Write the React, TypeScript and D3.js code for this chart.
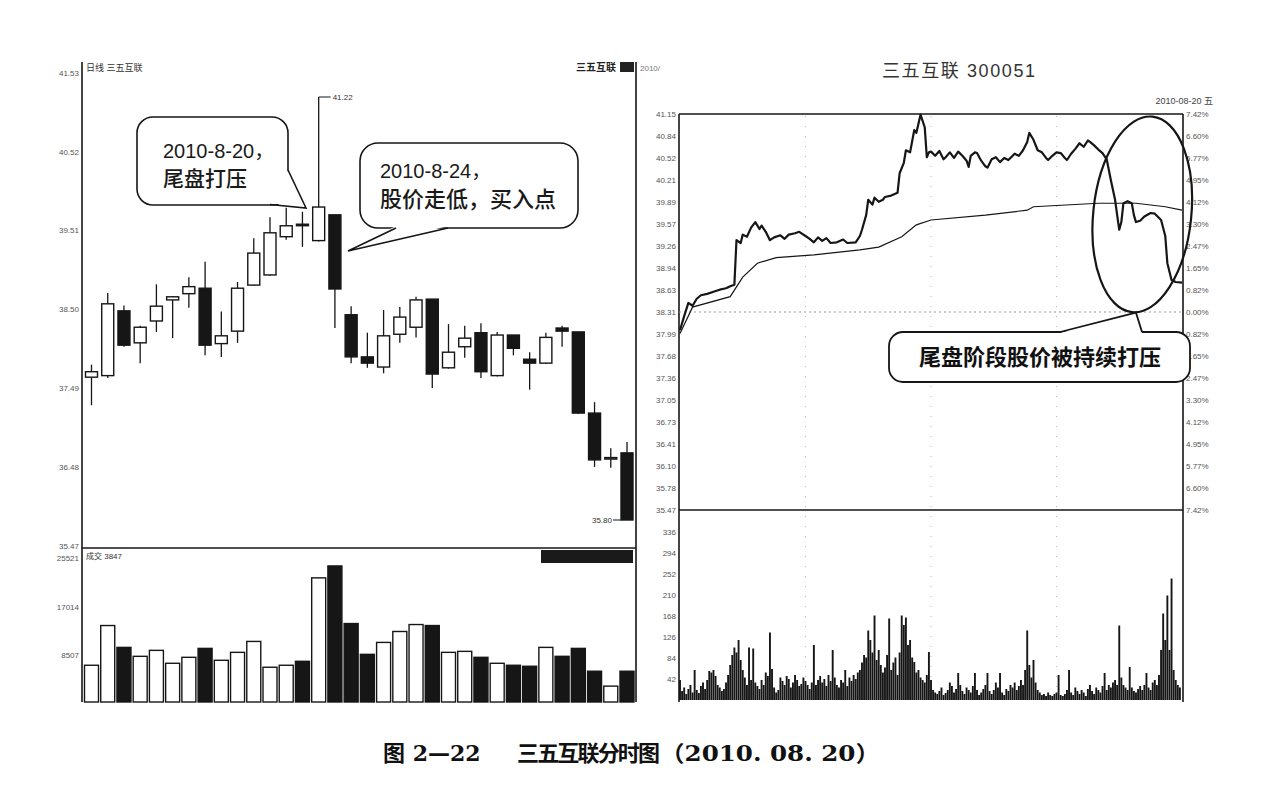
import { line, scaleLinear } from "d3";

// Daily candles (left panel).
const dailyOpen = [37.63, 37.65, 38.48, 38.07, 38.35, 38.62, 38.7, 38.77, 38.06, 38.22, 38.81, 38.94, 39.43, 39.59, 39.38, 39.71, 38.43, 37.89, 37.76, 38.18, 38.27, 38.63, 37.75, 38.02, 38.2, 37.65, 38.17, 37.86, 37.81, 38.26, 38.21, 37.17, 36.59, 36.66];
const dailyHigh = [37.79, 38.71, 38.55, 38.29, 38.82, 38.67, 38.91, 39.11, 38.47, 38.85, 39.41, 39.68, 39.8, 39.75, 41.22, 39.71, 38.54, 38.2, 38.49, 38.53, 38.66, 38.63, 38.31, 38.29, 38.32, 38.21, 38.17, 37.95, 38.2, 38.29, 38.21, 37.31, 36.72, 36.8];
const dailyLow = [37.27, 37.62, 38.02, 37.81, 38.21, 38.13, 38.52, 37.91, 37.89, 38.07, 38.8, 38.93, 39.39, 39.3, 39.37, 38.26, 37.81, 37.75, 37.68, 38.07, 38.14, 37.49, 37.74, 37.88, 37.62, 37.64, 37.91, 37.47, 37.8, 38.02, 37.16, 36.48, 36.47, 35.8];
const dailyClose = [37.7, 38.57, 38.04, 38.27, 38.54, 38.66, 38.79, 38.04, 38.16, 38.77, 39.22, 39.48, 39.57, 39.58, 39.81, 38.76, 37.89, 37.81, 38.16, 38.4, 38.62, 37.67, 37.95, 38.13, 37.7, 38.17, 38.0, 37.81, 38.14, 38.22, 37.17, 36.57, 36.6, 35.8];
const dailyVolume = [6771, 13715, 9896, 8333, 9375, 7118, 8160, 9722, 7639, 9028, 10937, 6424, 6771, 7465, 22049, 24132, 14062, 8681, 10764, 12674, 13889, 13715, 9028, 9201, 8160, 7118, 6771, 6597, 9896, 8333, 9722, 5729, 3125, 5729];

const leftPriceTicks = [41.53, 40.52, 39.51, 38.5, 37.49, 36.48, 35.47];
const leftVolumeTicks = [25521, 17014, 8507];

// Intraday 2010-08-20 (right panel)
const intradayMinute = [
  0, 2, 4, 6, 8, 10, 13, 16, 19, 22,
  24, 26, 27, 29, 30, 32, 34, 36, 38, 39,
  41, 43, 45, 48, 50, 52, 55, 57, 60, 62,
  64, 66, 68, 70, 72, 75, 78, 80, 84, 86,
  87, 89, 90, 92, 93, 95, 97, 98, 101, 104,
  105, 107, 108, 110, 112, 113, 115, 117, 118, 119,
  120, 122, 124, 126, 127, 129, 131, 133, 135, 137,
  138, 139, 141, 142, 144, 146, 147, 149, 151, 153,
  155, 157, 160, 162, 164, 166, 167, 169, 171, 173,
  175, 176, 178, 180, 182, 184, 185, 187, 189, 191,
  193, 195, 196, 198, 200, 202, 204, 206, 208, 209,
  210, 211, 212, 214, 216, 217, 218, 220, 222, 225,
  227, 230, 232, 233, 235, 237, 240,
];
const intradayPrice = [
  38.05, 38.25, 38.44, 38.4, 38.5, 38.55, 38.57, 38.6, 38.63, 38.65,
  38.68, 38.7, 39.34, 39.3, 39.42, 39.39, 39.52, 39.6, 39.5, 39.55,
  39.46, 39.34, 39.38, 39.41, 39.36, 39.42, 39.44, 39.46, 39.4, 39.36,
  39.31, 39.38, 39.33, 39.37, 39.3, 39.31, 39.35, 39.3, 39.31, 39.4,
  39.49, 39.7, 39.92, 39.85, 39.95, 39.89, 39.92, 39.96, 39.98, 40.02,
  40.3, 40.45, 40.63, 40.6, 40.92, 40.88, 41.14, 40.96, 40.53, 40.6,
  40.61, 40.55, 40.62, 40.5, 40.53, 40.6, 40.52, 40.61, 40.55, 40.48,
  40.39, 40.55, 40.6, 40.59, 40.48, 40.4, 40.38, 40.5, 40.53, 40.46,
  40.52, 40.49, 40.58, 40.55, 40.63, 40.75, 40.88, 40.78, 40.63, 40.6,
  40.52, 40.49, 40.55, 40.6, 40.59, 40.52, 40.49, 40.58, 40.65, 40.73,
  40.68, 40.77, 40.75, 40.7, 40.64, 40.59, 40.5, 40.2, 39.92, 39.7,
  39.49, 39.6, 39.87, 39.9, 39.87, 39.7, 39.6, 39.62, 39.68, 39.73,
  39.72, 39.63, 39.4, 39.01, 38.77, 38.74, 38.73,
];
const avgMinute = [0, 6, 24, 30, 37, 46, 64, 86, 95, 106, 113, 120, 146, 166, 169, 200, 218, 232, 240];
const avgPrice = [38.0, 38.38, 38.53, 38.81, 39.01, 39.09, 39.13, 39.2, 39.24, 39.39, 39.56, 39.63, 39.7, 39.77, 39.82, 39.87, 39.87, 39.82, 39.77];
const minuteVolume = [
  40, 18, 25, 12, 22, 30, 15, 60, 20, 14, 28, 35, 22, 40, 58, 55, 60, 48, 30, 25, 18, 22, 35, 50, 70, 90, 105, 95, 120, 80,
  60, 45, 30, 105, 40, 103, 35, 28, 22, 40, 30, 55, 48, 135, 62, 25, 15, 20, 45, 38, 30, 48, 42, 25, 35, 50, 40, 28, 32, 45,
  38, 30, 22, 35, 110, 30, 40, 48, 35, 42, 28, 50, 38, 100, 45, 30, 25, 40, 35, 60, 28, 45, 38, 50, 42, 55, 60, 75, 90, 85,
  139, 120, 95, 169, 80, 100, 70, 55, 65, 90, 163, 60, 75, 85, 50, 95, 169, 150, 165, 110, 120, 85, 76, 55, 60, 45, 40, 35, 50, 96,
  40, 20, 15, 12, 18, 25, 10, 14, 20, 35, 28, 15, 22, 54, 30, 18, 12, 25, 20, 15, 28, 54, 20, 10, 15, 22, 30, 54, 18, 12,
  20, 35, 25, 54, 15, 10, 22, 18, 30, 25, 35, 20, 28, 40, 30, 60, 139, 70, 45, 80, 35, 20, 15, 10, 12, 8, 15, 10, 8, 12,
  15, 50, 10, 8, 12, 20, 60, 15, 10, 25, 18, 12, 20, 15, 8, 22, 30, 18, 12, 25, 20, 15, 28, 54, 20, 30, 25, 35, 40, 30,
  149, 45, 30, 25, 20, 66, 25, 18, 15, 22, 28, 20, 30, 54, 25, 20, 35, 40, 30, 50, 100, 173, 120, 209, 100, 243, 60, 40, 30, 25,
];
const preClose = 38.31;
const rightPriceTicks = ["41.15", "40.84", "40.52", "40.21", "39.89", "39.57", "39.26", "38.94", "38.63", "38.31", "37.99", "37.68", "37.36", "37.05", "36.73", "36.41", "36.10", "35.78", "35.47"];
const rightPctTicks = ["7.42%", "6.60%", "5.77%", "4.95%", "4.12%", "3.30%", "2.47%", "1.65%", "0.82%", "0.00%", "0.82%", "1.65%", "2.47%", "3.30%", "4.12%", "4.95%", "5.77%", "6.60%", "7.42%"];
const rightVolumeTicks = [336, 294, 252, 210, 168, 126, 84, 42];
const gridMinutes = [60, 120, 180];

const INK = "#161616";
const LABEL = "#555";
const CJK = "'Liberation Sans', 'Noto Sans CJK SC', sans-serif";
const TINY = "'Liberation Sans', 'DejaVu Sans', sans-serif";
const CAPTION = "'DejaVu Serif', 'Noto Sans CJK SC', serif";

export default function App() {
  const xL = scaleLinear().domain([0, dailyOpen.length - 1]).range([91.5, 627]);
  const yL = scaleLinear().domain([35.8, 41.22]).range([520, 97]);
  const yLV = scaleLinear().domain([0, 25521]).range([704, 558]);
  const xR = scaleLinear().domain([0, 240]).range([680, 1182]);
  const yR = scaleLinear().domain([35.47, 41.15]).range([510, 114]);
  const yRV = scaleLinear().domain([0, 336]).range([700, 532]);

  const priceLine = line<number>()
    .x((_d, i) => xR(intradayMinute[i]))
    .y((d) => yR(d));
  const avgLine = line<number>()
    .x((_d, i) => xR(avgMinute[i]))
    .y((d) => yR(d));

  const hiIdx = dailyHigh.indexOf(Math.max(...dailyHigh));
  const loIdx = dailyLow.indexOf(Math.min(...dailyLow));

  // ellipse around the close-phase selloff
  const ecx = xR(221);
  const ecy = (yR(41.12) + yR(38.3)) / 2;
  const ery = (yR(38.3) - yR(41.12)) / 2;
  const tipX = xR(218);
  const tipY = yR(38.3);

  return (
    <svg width={1280} height={790} style={{ position: "absolute", left: 0, top: 0, background: "#fff" }}>
      {/* ---------- left panel: daily K ---------- */}
      <line x1={82} x2={82} y1={62} y2={702} stroke={INK} strokeWidth={1.6} />
      <line x1={636} x2={636} y1={62} y2={702} stroke={INK} strokeWidth={1.6} />
      <line x1={82} x2={636} y1={548} y2={548} stroke={INK} strokeWidth={1.4} />
      <text x={86} y={71} fontSize={9} fill="#333" fontFamily={CJK}>日线 三五互联</text>
      <text x={576} y={71} fontSize={10} fill="#222" fontFamily={CJK} fontWeight={700}>三五互联</text>
      <rect x={620} y={62} width={14} height={10} fill="#222" />
      <text x={640} y={71} fontSize={8} fill="#777" fontFamily={TINY}>2010/</text>

      {leftPriceTicks.map((t) => (
        <text key={t} x={79} y={yL(t) + 3} fontSize={8} fill={LABEL} textAnchor="end" fontFamily={TINY}>
          {t.toFixed(2)}
        </text>
      ))}
      {leftVolumeTicks.map((t) => (
        <text key={t} x={79} y={yLV(t) + 3} fontSize={8} fill={LABEL} textAnchor="end" fontFamily={TINY}>
          {t}
        </text>
      ))}
      <text x={86} y={559} fontSize={8} fill="#333" fontFamily={CJK}>成交 3847</text>
      <rect x={541} y={550} width={92} height={13} fill="#1a1a1a" />

      {dailyOpen.map((o, i) => {
        const c = dailyClose[i];
        const up = c >= o;
        const x = xL(i);
        const top = yL(Math.max(o, c));
        const bot = yL(Math.min(o, c));
        return (
          <g key={"c" + i}>
            <line x1={x} x2={x} y1={yL(dailyHigh[i])} y2={yL(dailyLow[i])} stroke={INK} strokeWidth={1.3} />
            <rect
              x={x - 6}
              y={top}
              width={12}
              height={Math.max(bot - top, 1.5)}
              fill={up ? "#fff" : INK}
              stroke={INK}
              strokeWidth={1.4}
            />
          </g>
        );
      })}
      {/* high / low markers */}
      <line x1={xL(hiIdx)} x2={xL(hiIdx) + 12} y1={yL(dailyHigh[hiIdx])} y2={yL(dailyHigh[hiIdx])} stroke={INK} strokeWidth={1} />
      <text x={xL(hiIdx) + 14} y={yL(dailyHigh[hiIdx]) + 3} fontSize={8} fill="#333" fontFamily={TINY}>
        {dailyHigh[hiIdx].toFixed(2)}
      </text>
      <line x1={xL(loIdx) - 6} x2={xL(loIdx) - 14} y1={yL(dailyLow[loIdx])} y2={yL(dailyLow[loIdx])} stroke={INK} strokeWidth={1} />
      <text x={xL(loIdx) - 15} y={yL(dailyLow[loIdx]) + 3} fontSize={8} fill="#333" textAnchor="end" fontFamily={TINY}>
        {dailyLow[loIdx].toFixed(2)}
      </text>

      {dailyVolume.map((v, i) => {
        const up = dailyClose[i] >= dailyOpen[i];
        const x = xL(i);
        return (
          <rect
            key={"v" + i}
            x={x - 7}
            y={yLV(v)}
            width={14}
            height={702 - yLV(v)}
            fill={up ? "#fff" : INK}
            stroke={INK}
            strokeWidth={1.4}
          />
        );
      })}

      {/* callout 1 */}
      <rect x={137} y={117} width={151} height={88} rx={16} fill="#fff" stroke={INK} strokeWidth={1.6} />
      <polygon points="270,203 288,170 306,208" fill="#fff" />
      <polyline points="288,170 306,208 270,204.5" fill="none" stroke={INK} strokeWidth={1.6} />
      <text x={163} y={158} fontSize={20} fill="#1a1a1a" fontFamily={CJK}>2010-8-20，</text>
      <text x={163} y={186} fontSize={21} fill="#1a1a1a" fontFamily={CJK} fontWeight={500}>尾盘打压</text>

      {/* callout 2 */}
      <rect x={360} y={143} width={218} height={85} rx={18} fill="#fff" stroke={INK} strokeWidth={1.6} />
      <polygon points="396,226 348,251 448,226" fill="#fff" />
      <polyline points="396,228 348,251 448,228" fill="none" stroke={INK} strokeWidth={1.6} />
      <text x={380} y={178} fontSize={20} fill="#1a1a1a" fontFamily={CJK}>2010-8-24，</text>
      <text x={380} y={207} fontSize={22} fill="#1a1a1a" fontFamily={CJK} fontWeight={500}>股价走低，买入点</text>

      {/* ---------- right panel: intraday ---------- */}
      <text x={882} y={77} fontSize={18} fill="#333" fontFamily={CJK} textLength={153} lengthAdjust="spacing">
        三五互联 300051
      </text>
      <text x={1213} y={104} fontSize={9} fill="#444" textAnchor="end" fontFamily={CJK}>2010-08-20 五</text>

      <line x1={679} x2={1183} y1={114} y2={114} stroke={INK} strokeWidth={1.4} />
      <line x1={679} x2={679} y1={114} y2={702} stroke={INK} strokeWidth={1.6} />
      <line x1={1183} x2={1183} y1={114} y2={702} stroke={INK} strokeWidth={1.6} />
      <line x1={679} x2={1183} y1={510} y2={510} stroke={INK} strokeWidth={1.6} />

      {/* grid */}
      <line x1={679} x2={1183} y1={yR(preClose)} y2={yR(preClose)} stroke="#999" strokeWidth={1} strokeDasharray="2 3" />
      {gridMinutes.map((m) => (
        <line key={"g" + m} x1={xR(m)} x2={xR(m)} y1={116} y2={700} stroke="#bbb" strokeWidth={1} strokeDasharray="1 9" />
      ))}

      {rightPriceTicks.map((t, i) => (
        <g key={"rt" + i}>
          <text x={676} y={yR(+t) + 3} fontSize={8} fill={LABEL} textAnchor="end" fontFamily={TINY}>{t}</text>
          <text x={1186} y={yR(+t) + 3} fontSize={8} fill={LABEL} fontFamily={TINY}>{rightPctTicks[i]}</text>
        </g>
      ))}
      {rightVolumeTicks.map((t) => (
        <text key={"rv" + t} x={676} y={yRV(t) + 3} fontSize={8} fill={LABEL} textAnchor="end" fontFamily={TINY}>{t}</text>
      ))}

      {minuteVolume.map((v, i) => (
        <line key={"mv" + i} x1={xR(i)} x2={xR(i)} y1={yRV(v)} y2={700} stroke={INK} strokeWidth={1.9} />
      ))}

      <path d={avgLine(avgPrice) || ""} fill="none" stroke={INK} strokeWidth={1.2} />
      <path d={priceLine(intradayPrice) || ""} fill="none" stroke={INK} strokeWidth={2.2} strokeLinejoin="round" />

      <ellipse cx={ecx} cy={ecy} rx={49} ry={ery} fill="none" stroke={INK} strokeWidth={2.2} transform={`rotate(6 ${ecx} ${ecy})`} />

      {/* callout 3 */}
      <rect x={889} y={332} width={301} height={50} rx={14} fill="#fff" stroke={INK} strokeWidth={1.8} />
      <polygon points={`1060,333 ${tipX},${tipY} 1142,333`} fill="#fff" />
      <polyline points={`1060,332 ${tipX},${tipY} 1142,332`} fill="none" stroke={INK} strokeWidth={1.8} />
      <text x={1040} y={365} fontSize={22} fill="#111" textAnchor="middle" fontFamily={CJK} fontWeight={700}>
        尾盘阶段股价被持续打压
      </text>

      {/* caption */}
      <g fontFamily={CAPTION} fontWeight={700} fontSize={22} fill="#111">
        <text x={383} y={761}>图 2—22</text>
        <text x={517} y={761} textLength={143} lengthAdjust="spacing">三五互联分时图</text>
        <text x={660} y={761} textLength={220} lengthAdjust="spacingAndGlyphs">（2010. 08. 20）</text>
      </g>
    </svg>
  );
}
